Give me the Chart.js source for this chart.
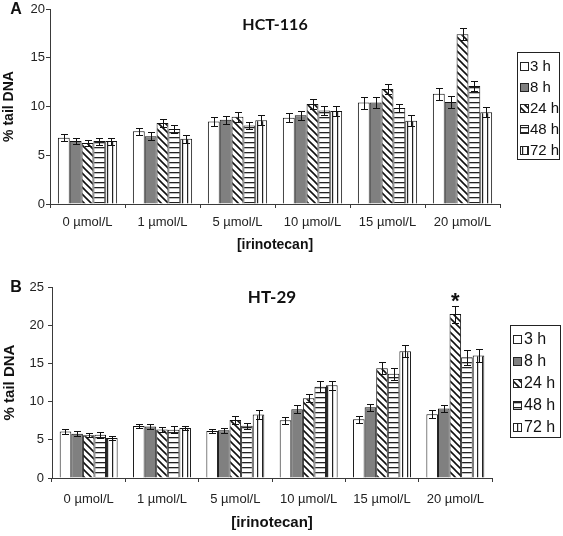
<!DOCTYPE html>
<html>
<head>
<meta charset="utf-8">
<script src="https://cdn.jsdelivr.net/npm/chart.js@4"></script>
<style>
  body { margin: 0; background: #fff; }
  canvas { position: absolute; left: 0; }
</style>
</head>
<body>
<canvas id="chart-a" width="563" height="260" style="top:0"></canvas>
<canvas id="chart-b" width="563" height="276" style="top:260px"></canvas>
<script>
const doses = ['0 µmol/L', '1 µmol/L', '5 µmol/L', '10 µmol/L', '15 µmol/L', '20 µmol/L']
const times = ['3 h', '8 h', '24 h', '48 h', '72 h']

// HCT-116 (% tail DNA), one array per time point
const hct3 = [6.8, 7.45, 8.45, 8.85, 10.4, 11.3]
const hct8 = [6.45, 6.95, 8.65, 9.1, 10.4, 10.45]
const hct24 = [6.25, 8.3, 8.95, 10.25, 11.8, 17.4]
const hct48 = [6.45, 7.7, 8.05, 9.6, 9.85, 12.1]
const hct72 = [6.45, 6.7, 8.6, 9.55, 8.55, 9.4]
const hctErr3 = [0.35, 0.35, 0.45, 0.48, 0.62, 0.62]
const hctErr8 = [0.3, 0.4, 0.4, 0.45, 0.55, 0.58]
const hctErr24 = [0.3, 0.45, 0.5, 0.5, 0.55, 0.6]
const hctErr48 = [0.35, 0.45, 0.4, 0.48, 0.4, 0.55]
const hctErr72 = [0.35, 0.4, 0.48, 0.55, 0.58, 0.5]

// HT-29
const ht3 = [6.1, 6.8, 6.15, 7.55, 7.7, 8.35]
const ht8 = [5.8, 6.75, 6.25, 9.0, 9.25, 9.1]
const ht24 = [5.6, 6.35, 7.6, 10.45, 14.35, 21.45]
const ht48 = [5.65, 6.3, 6.85, 11.95, 13.65, 15.8]
const ht72 = [5.25, 6.55, 8.3, 12.15, 16.6, 16.05]
const htErr3 = [0.35, 0.3, 0.3, 0.45, 0.45, 0.55]
const htErr8 = [0.3, 0.35, 0.35, 0.55, 0.5, 0.45]
const htErr24 = [0.25, 0.3, 0.5, 0.55, 0.8, 1.1]
const htErr48 = [0.4, 0.45, 0.4, 0.7, 0.8, 0.95]
const htErr72 = [0.3, 0.3, 0.55, 0.6, 0.75, 0.85]

const yTicksA = [0, 5, 10, 15, 20]
const yTicksB = [0, 5, 10, 15, 20, 25]

const axisColor = '#3a3a3a'
const tickFont = { family: 'Liberation Sans', size: 13 }

function makePattern(kind) {
  const c = document.createElement('canvas')
  const s = kind === 'diag' ? 7 : 5
  c.width = s
  c.height = s
  const g = c.getContext('2d')
  g.fillStyle = '#fff'
  g.fillRect(0, 0, s, s)
  g.strokeStyle = '#111'
  g.fillStyle = '#222'
  if (kind === 'diag') {
    g.lineWidth = 1.6
    g.beginPath()
    g.moveTo(-1, -1); g.lineTo(s + 1, s + 1)
    g.moveTo(-1, s - 1); g.lineTo(1, s + 1)
    g.moveTo(s - 1, -1); g.lineTo(s + 1, 1)
    g.stroke()
  } else if (kind === 'horiz') {
    g.fillRect(0, 2, s, 1.3)
  } else if (kind === 'vert') {
    g.fillRect(2, 0, 1.2, s)
  }
  return g.createPattern(c, 'repeat')
}

const fills = ['#ffffff', '#808080', makePattern('diag'), makePattern('horiz'), makePattern('vert')]

function buildDatasets(series, errs) {
  return series.map((data, i) => ({
    label: times[i],
    data: data,
    errors: errs[i],
    backgroundColor: fills[i],
    borderColor: '#111',
    borderWidth: 1
  }))
}

const errorBars = {
  id: 'errorBars',
  afterDatasetsDraw(chart) {
    const ctx = chart.ctx
    const y = chart.scales.y
    ctx.save()
    ctx.strokeStyle = '#111'
    ctx.lineWidth = 1
    chart.data.datasets.forEach((ds, i) => {
      chart.getDatasetMeta(i).data.forEach((bar, j) => {
        const v = ds.data[j]
        const e = ds.errors[j]
        const top = Math.round(y.getPixelForValue(v + e)) + 0.5
        const bot = Math.round(y.getPixelForValue(v - e)) + 0.5
        const x = Math.round(bar.x) + 0.5
        ctx.beginPath()
        ctx.moveTo(x, top); ctx.lineTo(x, bot)
        ctx.moveTo(x - 3.5, top); ctx.lineTo(x + 3.5, top)
        ctx.moveTo(x - 3.5, bot); ctx.lineTo(x + 3.5, bot)
        ctx.stroke()
      })
    })
    ctx.restore()
  }
}

const boxLegend = {
  id: 'boxLegend',
  afterDraw(chart, args, o) {
    const ctx = chart.ctx
    ctx.save()
    ctx.strokeStyle = '#222'
    ctx.lineWidth = 1
    ctx.strokeRect(o.x + 0.5, o.y + 0.5, o.w, o.h)
    ctx.font = o.fontSize + 'px "Liberation Sans"'
    ctx.textBaseline = 'middle'
    chart.data.datasets.forEach((ds, i) => {
      const cy = Math.round(o.rowY + i * o.rowStep)
      const sy = cy - Math.round(o.sw / 2)
      ctx.fillStyle = ds.backgroundColor
      ctx.fillRect(o.swX, sy, o.sw, o.sw)
      ctx.strokeRect(o.swX + 0.5, sy + 0.5, o.sw, o.sw)
      ctx.fillStyle = '#111'
      ctx.fillText(ds.label, o.textX, cy + 1)
    })
    ctx.restore()
  }
}

const panelText = {
  id: 'panelText',
  afterDraw(chart, args, o) {
    const ctx = chart.ctx
    const area = chart.chartArea
    ctx.save()
    ctx.fillStyle = '#111'
    ctx.textBaseline = 'middle'
    ctx.textAlign = 'center'
    ctx.font = 'bold 16px "Liberation Sans"'
    ctx.fillText(o.letter, o.letterX, o.letterY)
    ctx.font = 'bold ' + o.titleSize + 'px Lato'
    ctx.fillText(o.title, (area.left + area.right) / 2, o.titleY)
    if (o.star) {
      const ds = chart.data.datasets[o.star.dataset]
      const bar = chart.getDatasetMeta(o.star.dataset).data[o.star.index]
      const top = chart.scales.y.getPixelForValue(ds.data[o.star.index] + ds.errors[o.star.index])
      ctx.textBaseline = 'alphabetic'
      ctx.font = 'bold 22px "Liberation Sans"'
      ctx.fillText('*', bar.x, top + 2)
    }
    ctx.restore()
  }
}

function makeChart(id, series, errs, yTicks, lay) {
  return new Chart(document.getElementById(id), {
    type: 'bar',
    data: {
      labels: doses,
      datasets: buildDatasets(series, errs)
    },
    plugins: [errorBars, boxLegend, panelText],
    options: {
      responsive: false,
      animation: false,
      layout: { padding: { top: lay.top, left: 0, right: lay.right, bottom: 0 } },
      datasets: { bar: { categoryPercentage: 0.79, barPercentage: 1 } },
      plugins: {
        legend: { display: false },
        tooltip: { enabled: false },
        boxLegend: lay.legend,
        panelText: lay.text
      },
      scales: {
        x: {
          offset: true,
          afterFit: (s) => { s.height = lay.xHeight },
          grid: { offset: true, drawOnChartArea: false, tickLength: 4, color: axisColor },
          border: { color: axisColor },
          ticks: { font: tickFont, color: '#222', maxRotation: 0, padding: lay.xPad },
          title: {
            display: true,
            text: '[irinotecan]',
            color: '#111',
            font: { family: 'Liberation Sans', size: lay.axisTitleSize, weight: 'bold' },
            padding: { top: 0, bottom: lay.xTitlePad }
          }
        },
        y: {
          min: yTicks[0],
          max: yTicks[yTicks.length - 1],
          afterFit: (s) => { s.width = lay.yWidth },
          afterBuildTicks: (s) => { s.ticks = yTicks.map(v => ({ value: v })) },
          grid: { drawOnChartArea: false, tickLength: 4, color: axisColor },
          border: { color: axisColor },
          ticks: { font: tickFont, color: '#222', padding: lay.yPad },
          title: {
            display: true,
            text: '% tail DNA',
            color: '#111',
            font: { family: 'Liberation Sans', size: lay.axisTitleSize, weight: 'bold' },
            padding: { top: 1, bottom: 0 }
          }
        }
      }
    }
  })
}

// eslint-disable-next-line no-unused-vars
const chartA = makeChart('chart-a',
  [hct3, hct8, hct24, hct48, hct72],
  [hctErr3, hctErr8, hctErr24, hctErr48, hctErr72],
  yTicksA,
  {
    top: 9, right: 63, xHeight: 56, yWidth: 50, xPad: 7, yPad: 1, axisTitleSize: 14, xTitlePad: 6,
    legend: { x: 517, y: 52, w: 42, h: 107, rowY: 66, rowStep: 21, swX: 520, sw: 8, textX: 530, fontSize: 15 },
    text: { letter: 'A', letterX: 16, letterY: 10, title: 'HCT-116', titleSize: 16, titleY: 25 }
  })

// eslint-disable-next-line no-unused-vars
const chartB = makeChart('chart-b',
  [ht3, ht8, ht24, ht48, ht72],
  [htErr3, htErr8, htErr24, htErr48, htErr72],
  yTicksB,
  {
    top: 27, right: 71, xHeight: 58, yWidth: 52, xPad: 10, yPad: 4, axisTitleSize: 15, xTitlePad: 4,
    legend: { x: 510, y: 65, w: 50, h: 112, rowY: 79, rowStep: 22, swX: 513, sw: 8, textX: 524, fontSize: 16 },
    text: { letter: 'B', letterX: 16, letterY: 28, title: 'HT-29', titleSize: 17, titleY: 38, star: { dataset: 2, index: 5 } }
  })
</script>
</body>
</html>
